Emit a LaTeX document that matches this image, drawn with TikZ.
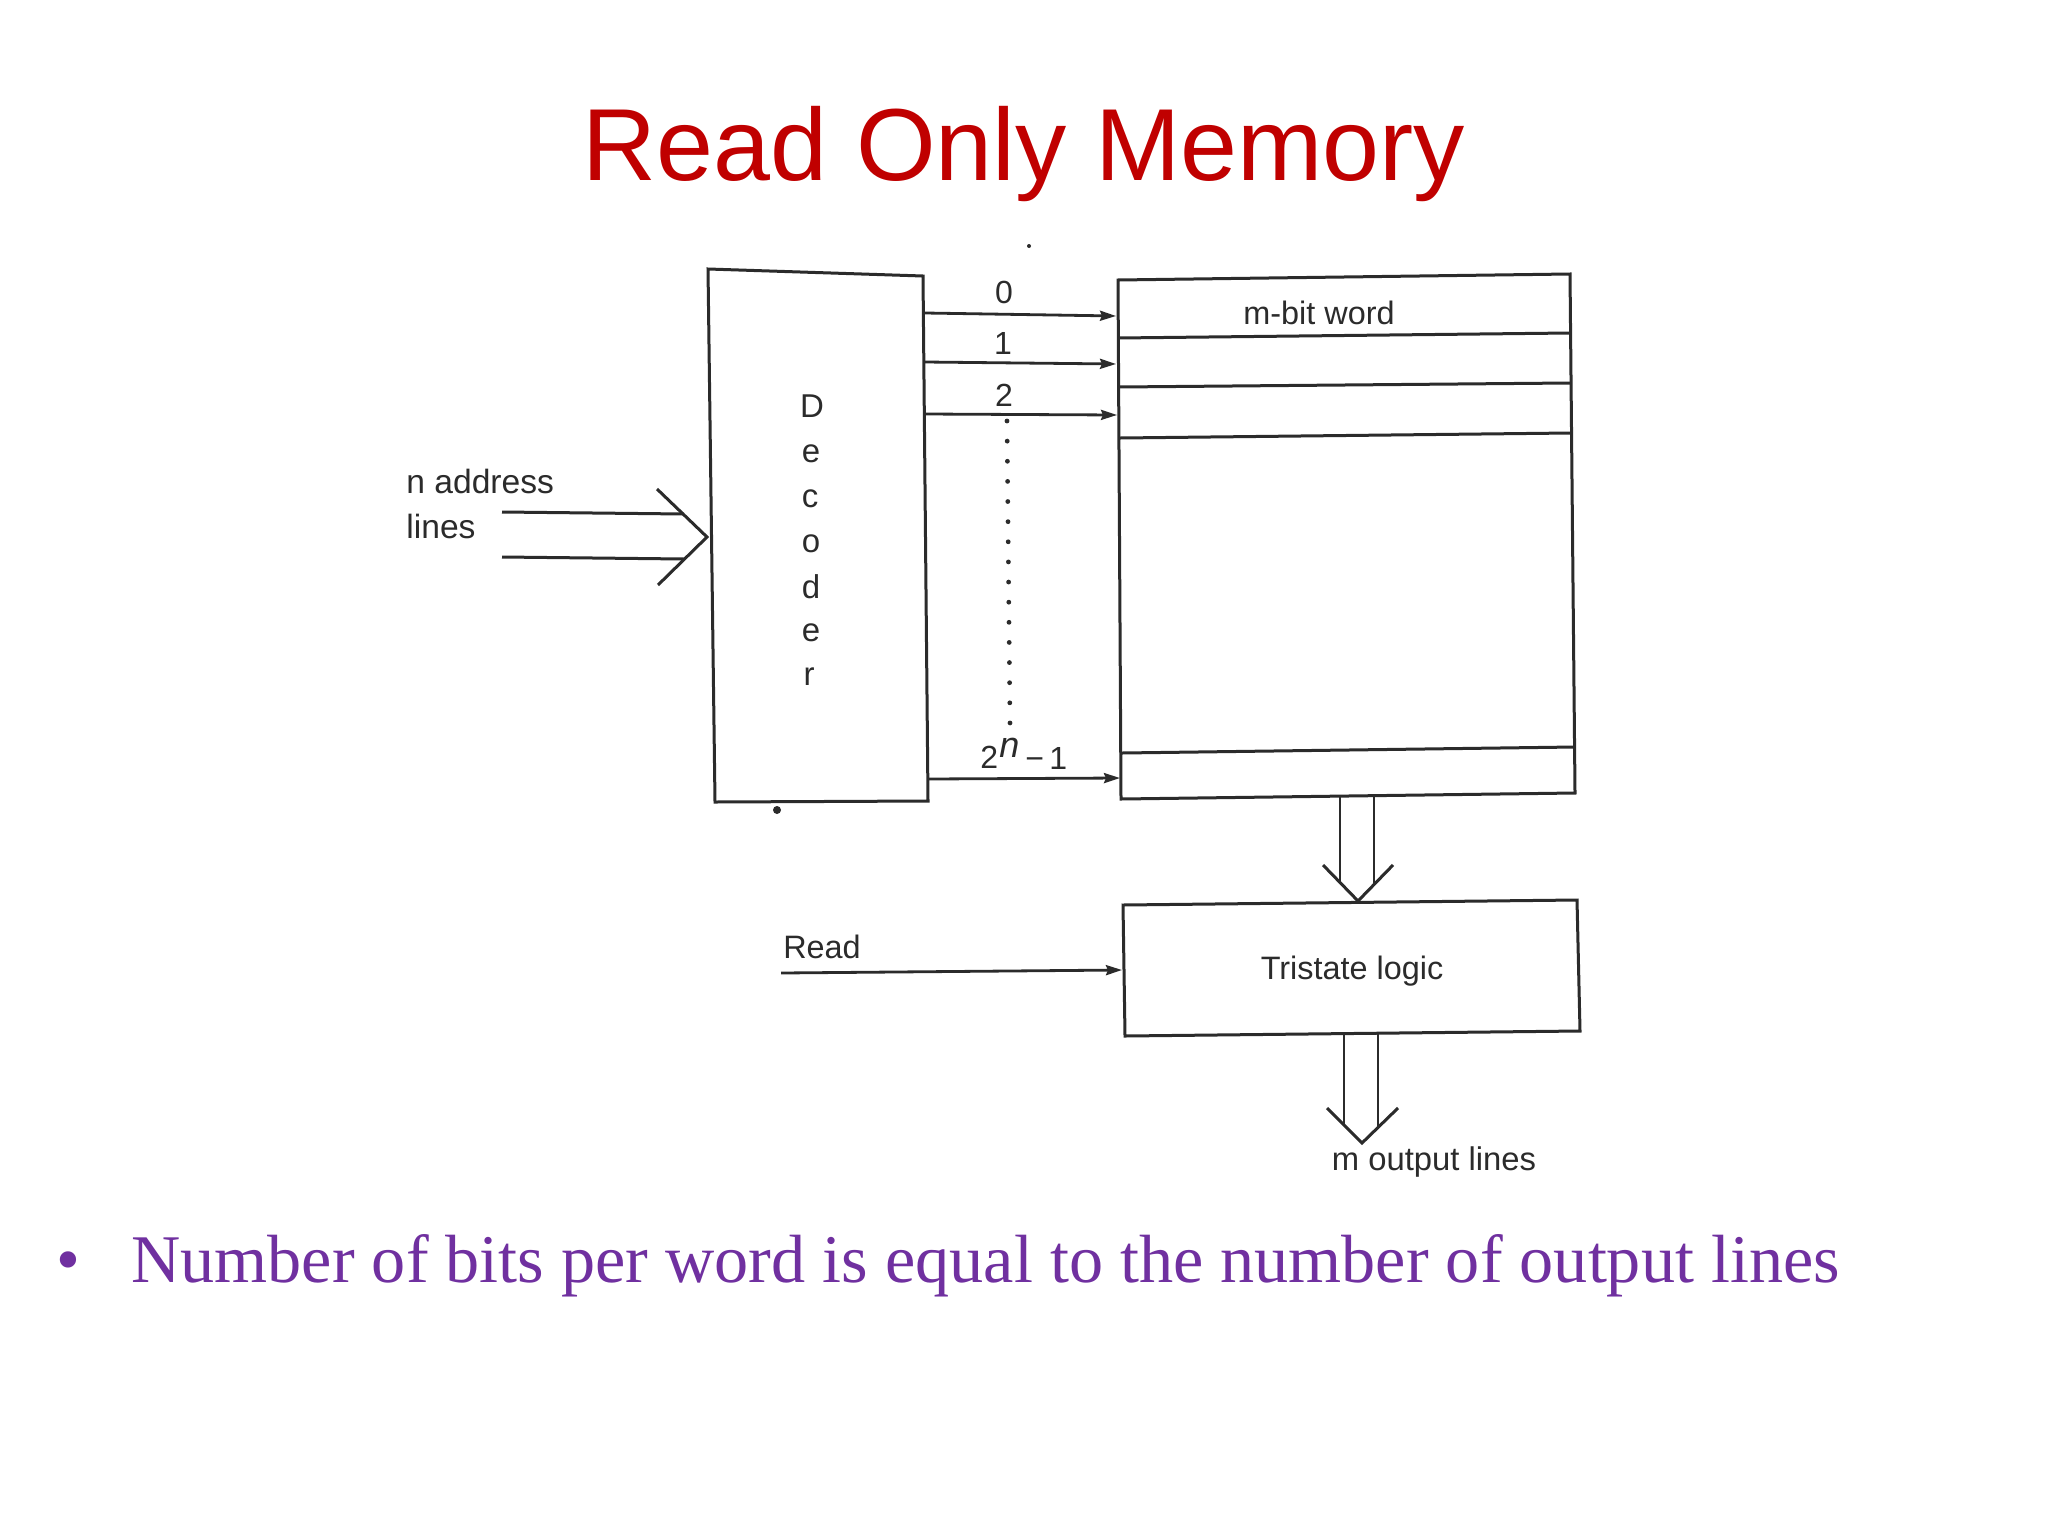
\documentclass[tikz,border=0pt]{standalone}
\usepackage{fontspec}
\setmainfont{Liberation Sans}
\newfontfamily\serifface{Liberation Serif}
\usetikzlibrary{arrows.meta}
\definecolor{titlered}{HTML}{C00000}
\definecolor{bulletpurple}{HTML}{7030A0}
\definecolor{ink}{HTML}{2B2B2B}
\tikzset{
  x=0.5pt,y=-0.5pt,
  edge/.style={draw=ink,line width=1.5pt,line join=miter},
  bus/.style={draw=ink,line width=1.25pt},
  wire/.style={draw=ink,line width=1.4pt,-{Stealth[length=8pt,width=5pt,inset=1pt]}},
  lbl/.style={inner sep=0pt,text=ink,font=\fontsize{16.2}{18}\selectfont},
  dec/.style={inner sep=0pt,text=ink,font=\fontsize{16.5}{18}\selectfont},
  num/.style={inner sep=0pt,text=ink,font=\fontsize{16}{18}\selectfont},
  speck/.style={fill=ink,draw=none}
}
\begin{document}
\begin{tikzpicture}
\useasboundingbox (0,0) rectangle (2048,1536);
\fill[white] (0,0) rectangle (2048,1536);

\node[inner sep=0pt,anchor=base,text=titlered,font=\fontsize{51.2}{60}\selectfont] (title) at (1024,180) {Read Only Memory};

% corners
\coordinate (dTL) at (708,269); \coordinate (dTR) at (923,276);
\coordinate (dBR) at (928,801); \coordinate (dBL) at (715,802);
\draw[edge] (dTL)--(dTR)--(dBR)--(dBL)--cycle;

\coordinate (mTL) at (1118,280); \coordinate (mTR) at (1570,274);
\coordinate (mBR) at (1575,793); \coordinate (mBL) at (1121,799);
\draw[edge] (mTL)--(mTR)--(mBR)--(mBL)--cycle;
\coordinate (r1l) at (1118,338); \coordinate (r1r) at (1570,333);
\coordinate (r2l) at (1119,387); \coordinate (r2r) at (1570,383);
\coordinate (r3l) at (1120,438); \coordinate (r3r) at (1571,433);
\coordinate (r4l) at (1122,753); \coordinate (r4r) at (1575,747);
\draw[edge] (r1l)--(r1r);
\draw[edge] (r2l)--(r2r);
\draw[edge] (r3l)--(r3r);
\draw[edge] (r4l)--(r4r);

\coordinate (tTL) at (1123,905); \coordinate (tTR) at (1577,900);
\coordinate (tBR) at (1580,1031); \coordinate (tBL) at (1125,1036);
\draw[edge] (tTL)--(tTR)--(tBR)--(tBL)--cycle;

% decoder outputs
\coordinate (o0a) at (925,313); \coordinate (o0b) at (1116,316);
\coordinate (o1a) at (925,362); \coordinate (o1b) at (1116,364);
\coordinate (o2a) at (925,414); \coordinate (o2b) at (1117,415);
\coordinate (o3a) at (928,779); \coordinate (o3b) at (1120,778);
\draw[wire] (o0a)--(o0b);
\draw[wire] (o1a)--(o1b);
\draw[wire] (o2a)--(o2b);
\draw[wire] (o3a)--(o3b);

\foreach \i in {0,...,15}
  \fill[ink] ({1007+0.2*\i},{421+20.13*\i}) circle (1.2pt);

\node[num] (z0) at (1004,292) {0};
\node[num] (z1) at (1003,343) {1};
\node[num] (z2) at (1004,395) {2};
\node[num,anchor=base west] (zlast) at (980,768) {2};
\node[inner sep=0pt,text=ink,anchor=base west,font=\fontsize{18}{18}\selectfont\itshape] (zn) at (999,757) {n};
\node[num,anchor=base west] (zm) at (1025,769) {\symbol{"2212}\,1};

% address bus
\coordinate (a1s) at (502,512); \coordinate (a1e) at (684,514);
\coordinate (a2s) at (502,557); \coordinate (a2e) at (684,559);
\coordinate (ah1) at (657,489); \coordinate (atip) at (707,537); \coordinate (ah2) at (658,585);
\draw[edge] (a1s)--(a1e);
\draw[edge] (a2s)--(a2e);
\draw[edge] (ah1)--(atip)--(ah2);
\node[inner sep=0pt,text=ink,anchor=base west,font=\fontsize{16.8}{18}\selectfont] (naddr) at (406,493) {n address};
\node[inner sep=0pt,text=ink,anchor=base west,font=\fontsize{16.8}{18}\selectfont] (nlines) at (406,538) {lines};

% decoder letters
\node[dec] (l1) at (812,406) {D};
\node[dec] (l2) at (811,454) {e};
\node[dec] (l3) at (810,499) {c};
\node[dec] (l4) at (811,544) {o};
\node[dec] (l5) at (811,587) {d};
\node[dec] (l6) at (811,633) {e};
\node[dec] (l7) at (809,677) {r};

\node[lbl] (word) at (1319,313) {m-bit word};

% memory to tristate
\coordinate (b1s) at (1340,797); \coordinate (b1e) at (1340,883);
\coordinate (b2s) at (1374,797); \coordinate (b2e) at (1374,883);
\coordinate (bh1) at (1323,865); \coordinate (btip) at (1358,901); \coordinate (bh2) at (1393,865);
\draw[bus] (b1s)--(b1e);
\draw[bus] (b2s)--(b2e);
\draw[edge] (bh1)--(btip)--(bh2);

% tristate output
\coordinate (c1s) at (1344,1034); \coordinate (c1e) at (1344,1126);
\coordinate (c2s) at (1378,1034); \coordinate (c2e) at (1378,1126);
\coordinate (ch1) at (1327,1108); \coordinate (ctip) at (1362,1143); \coordinate (ch2) at (1398,1108);
\draw[bus] (c1s)--(c1e);
\draw[bus] (c2s)--(c2e);
\draw[edge] (ch1)--(ctip)--(ch2);

\node[lbl] (tri) at (1352,971) {Tristate logic};
\node[lbl] (read) at (822,947) {Read};
\coordinate (rs) at (781,973); \coordinate (re) at (1122,970);
\draw[wire] (rs)--(re);
\node[inner sep=0pt,text=ink,font=\fontsize{16.4}{18}\selectfont] (outl) at (1434,1162) {m output lines};

% specks
\fill[speck] (777,810) circle (2pt);
\fill[speck] (1029,246) circle (1pt);

\node[inner sep=0pt,anchor=base west,text=bulletpurple,font=\serifface\fontsize{34.1}{38}\selectfont] (bullet) at (56,1282) {•};
\node[inner sep=0pt,anchor=base west,text=bulletpurple,font=\serifface\fontsize{34.1}{38}\selectfont] (body) at (131,1282) {Number of bits per word is equal to the number of output lines};
\end{tikzpicture}
\end{document}
